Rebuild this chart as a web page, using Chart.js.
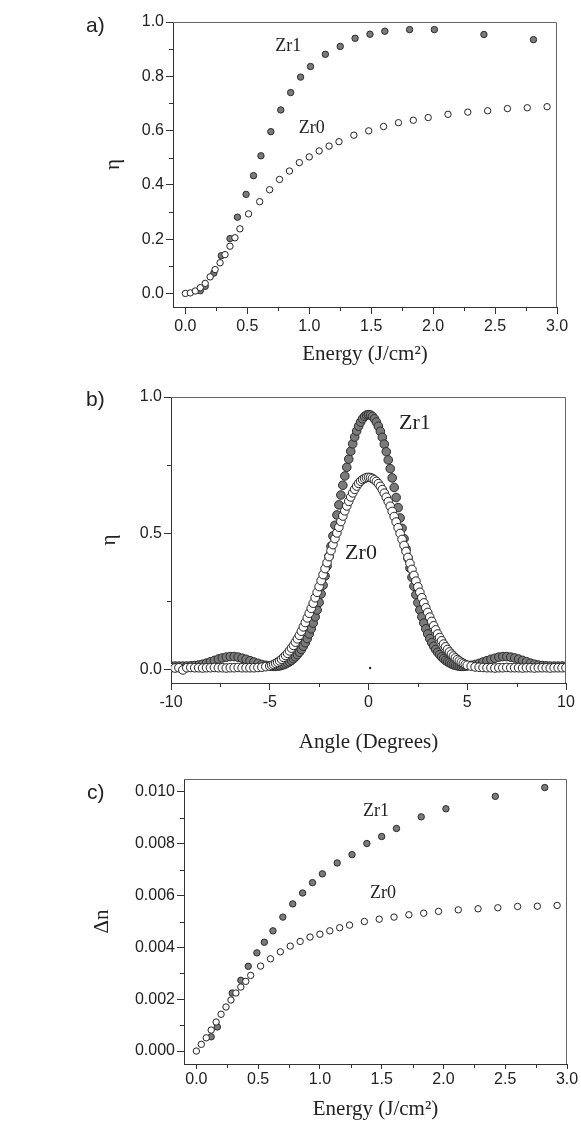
<!DOCTYPE html>
<html>
<head>
<meta charset="utf-8">
<script src="https://cdn.jsdelivr.net/npm/chart.js@4.4.1/dist/chart.umd.min.js"></script>
<style>
  html, body { margin: 0; padding: 0; background: #fff; }
  #wrap { position: relative; width: 581px; height: 1123px; }
  canvas { position: absolute; left: 0; }
</style>
</head>
<body>
<div id="wrap">
  <canvas id="chartA" width="581" height="380" style="top:0px"></canvas>
  <canvas id="chartB" width="581" height="390" style="top:380px"></canvas>
  <canvas id="chartC" width="581" height="353" style="top:770px"></canvas>
</div>
<script>
// Panel a) — diffraction efficiency vs energy
const energyZr1A = [0.12, 0.16, 0.23, 0.29, 0.36, 0.42, 0.49, 0.55, 0.61, 0.69, 0.77, 0.85, 0.93, 1.01, 1.13, 1.25, 1.37, 1.49, 1.61, 1.81, 2.01, 2.41, 2.81];
const etaZr1A    = [0.010, 0.026, 0.075, 0.139, 0.202, 0.281, 0.365, 0.434, 0.507, 0.596, 0.676, 0.740, 0.797, 0.836, 0.881, 0.910, 0.940, 0.955, 0.966, 0.972, 0.972, 0.954, 0.935];
const energyZr0A = [0.00, 0.04, 0.08, 0.12, 0.16, 0.20, 0.24, 0.28, 0.32, 0.36, 0.40, 0.44, 0.51, 0.60, 0.68, 0.76, 0.84, 0.92, 1.00, 1.08, 1.16, 1.24, 1.36, 1.48, 1.60, 1.72, 1.84, 1.96, 2.12, 2.28, 2.44, 2.60, 2.76, 2.92];
const etaZr0A    = [0.000, 0.002, 0.009, 0.021, 0.037, 0.061, 0.088, 0.113, 0.143, 0.174, 0.205, 0.238, 0.293, 0.338, 0.382, 0.420, 0.451, 0.482, 0.503, 0.525, 0.543, 0.559, 0.583, 0.599, 0.615, 0.629, 0.638, 0.648, 0.660, 0.668, 0.673, 0.681, 0.684, 0.688];

// Panel b) — angular selectivity
const angleB = [
  -10.0, -9.8, -9.6, -9.4, -9.2, -9.0, -8.8, -8.6, -8.4, -8.2, -8.0, -7.8, -7.6, -7.4, -7.2, -7.0, -6.8, -6.6, -6.4, -6.2, -6.0, -5.8, -5.6, -5.4, -5.2,
  -5.0, -4.9, -4.8, -4.7, -4.6, -4.5, -4.4, -4.3, -4.2, -4.1, -4.0, -3.9, -3.8, -3.7, -3.6, -3.5, -3.4, -3.3, -3.2, -3.1,
  -3.0, -2.9, -2.8, -2.7, -2.6, -2.5, -2.4, -2.3, -2.2, -2.1, -2.0, -1.9, -1.8, -1.7, -1.6, -1.5, -1.4, -1.3, -1.2, -1.1,
  -1.0, -0.9, -0.8, -0.7, -0.6, -0.5, -0.4, -0.3, -0.2, -0.1, 0.0,
  0.1, 0.2, 0.3, 0.4, 0.5, 0.6, 0.7, 0.8, 0.9, 1.0, 1.1, 1.2, 1.3, 1.4, 1.5, 1.6, 1.7, 1.8, 1.9, 2.0,
  2.1, 2.2, 2.3, 2.4, 2.5, 2.6, 2.7, 2.8, 2.9, 3.0, 3.1, 3.2, 3.3, 3.4, 3.5, 3.6, 3.7, 3.8, 3.9, 4.0,
  4.1, 4.2, 4.3, 4.4, 4.5, 4.6, 4.7, 4.8, 4.9, 5.0,
  5.2, 5.4, 5.6, 5.8, 6.0, 6.2, 6.4, 6.6, 6.8, 7.0, 7.2, 7.4, 7.6, 7.8, 8.0, 8.2, 8.4, 8.6, 8.8, 9.0, 9.2, 9.4, 9.6, 9.8, 10.0
];
const etaZr1B = [
  0.012, 0.012, 0.012, 0.012, 0.012, 0.013, 0.014, 0.016, 0.019, 0.023, 0.028, 0.033, 0.038, 0.042, 0.045, 0.047, 0.047, 0.045, 0.041, 0.037, 0.032, 0.027, 0.022, 0.018, 0.015,
  0.013, 0.012, 0.011, 0.011, 0.012, 0.013, 0.015, 0.017, 0.020, 0.024, 0.028, 0.033, 0.039, 0.046, 0.054, 0.063, 0.073, 0.085, 0.098, 0.113,
  0.130, 0.149, 0.170, 0.193, 0.218, 0.246, 0.277, 0.309, 0.343, 0.379, 0.415, 0.452, 0.490, 0.529, 0.567, 0.604, 0.640, 0.676, 0.710, 0.742,
  0.772, 0.801, 0.828, 0.853, 0.875, 0.893, 0.908, 0.920, 0.929, 0.934, 0.935,
  0.934, 0.929, 0.920, 0.908, 0.893, 0.874, 0.852, 0.827, 0.799, 0.769, 0.737, 0.703, 0.668, 0.631, 0.594, 0.556, 0.518, 0.480, 0.443, 0.407,
  0.372, 0.338, 0.305, 0.274, 0.245, 0.218, 0.193, 0.170, 0.149, 0.130, 0.113, 0.098, 0.085, 0.073, 0.063, 0.054, 0.046, 0.039, 0.033, 0.028,
  0.024, 0.020, 0.017, 0.015, 0.013, 0.012, 0.011, 0.011, 0.012, 0.013,
  0.015, 0.018, 0.022, 0.027, 0.032, 0.037, 0.041, 0.045, 0.047, 0.047, 0.045, 0.042, 0.038, 0.033, 0.028, 0.023, 0.019, 0.016, 0.014, 0.013, 0.012, 0.012, 0.012, 0.012, 0.012
];
const etaZr0B = [
  0.006, 0.005, 0.006, -0.002, 0.006, 0.007, 0.006, 0.006, 0.005, 0.006, 0.006, 0.007, 0.006, 0.006, 0.005, 0.006, 0.006, 0.007, 0.006, 0.006, 0.006, 0.006, 0.007, 0.008, 0.010,
  0.012, 0.015, 0.018, 0.022, 0.026, 0.031, 0.037, 0.044, 0.051, 0.059, 0.068, 0.078, 0.088, 0.100, 0.112, 0.125, 0.140, 0.156, 0.172, 0.189,
  0.206, 0.224, 0.243, 0.263, 0.283, 0.304, 0.326, 0.348, 0.370, 0.392, 0.414, 0.436, 0.458, 0.480, 0.501, 0.522, 0.543, 0.563, 0.582, 0.600,
  0.617, 0.633, 0.648, 0.661, 0.673, 0.683, 0.691, 0.697, 0.701, 0.704, 0.705,
  0.704, 0.701, 0.696, 0.690, 0.682, 0.672, 0.660, 0.647, 0.632, 0.616, 0.599, 0.580, 0.561, 0.541, 0.520, 0.499, 0.477, 0.455, 0.433, 0.411,
  0.389, 0.367, 0.345, 0.324, 0.303, 0.283, 0.263, 0.244, 0.226, 0.209, 0.192, 0.176, 0.160, 0.145, 0.130, 0.117, 0.105, 0.093, 0.083, 0.073,
  0.064, 0.056, 0.049, 0.042, 0.036, 0.031, 0.026, 0.022, 0.018, 0.015,
  0.012, 0.009, 0.008, 0.007, 0.006, 0.006, 0.005, 0.006, 0.006, 0.007, 0.006, 0.006, 0.006, 0.005, 0.006, 0.006, 0.005, 0.006, 0.006, 0.006, 0.005, 0.006, 0.006, 0.006, 0.006
];
const strayAngleB = [0.08];
const strayEtaB = [0.005];

// Panel c) — refractive index modulation vs energy
const energyZr1C = [0.12, 0.17, 0.29, 0.36, 0.42, 0.49, 0.55, 0.62, 0.70, 0.78, 0.86, 0.94, 1.02, 1.14, 1.26, 1.38, 1.50, 1.62, 1.82, 2.02, 2.42, 2.82];
const dnZr1C     = [0.00055, 0.00093, 0.00224, 0.00273, 0.00327, 0.00379, 0.00420, 0.00464, 0.00517, 0.00568, 0.00610, 0.00650, 0.00684, 0.00726, 0.00758, 0.00801, 0.00828, 0.00859, 0.00904, 0.00935, 0.00983, 0.01017];
const energyZr0C = [0.00, 0.04, 0.08, 0.12, 0.16, 0.20, 0.24, 0.28, 0.32, 0.36, 0.40, 0.44, 0.52, 0.60, 0.68, 0.76, 0.84, 0.92, 1.00, 1.08, 1.16, 1.24, 1.36, 1.48, 1.60, 1.72, 1.84, 1.96, 2.12, 2.28, 2.44, 2.60, 2.76, 2.92];
const dnZr0C     = [0.00000, 0.00026, 0.00051, 0.00081, 0.00112, 0.00142, 0.00170, 0.00197, 0.00224, 0.00247, 0.00269, 0.00292, 0.00328, 0.00356, 0.00383, 0.00405, 0.00423, 0.00440, 0.00451, 0.00464, 0.00476, 0.00486, 0.00500, 0.00509, 0.00517, 0.00526, 0.00532, 0.00539, 0.00545, 0.00549, 0.00553, 0.00558, 0.00559, 0.00562];

// minor tick positions
const minorEnergy = [0.25, 0.75, 1.25, 1.75, 2.25, 2.75];
const minorEtaA = [0.1, 0.3, 0.5, 0.7, 0.9];
const minorAngleB = [-7.5, -2.5, 2.5, 7.5];
const minorEtaB = [0.25, 0.75];
const minorDnC = [0.001, 0.003, 0.005, 0.007, 0.009];

const pts = (xs, ys) => xs.map((v, i) => ({ x: v, y: ys[i] }));

const tickFont = { family: '"Liberation Sans", Arial, sans-serif', size: 16 };
const titleFont = { family: '"Liberation Serif", "Times New Roman", serif', size: 21 };

// draws the top/right box edges, minor ticks, curve labels and panel letter
const framePlugin = {
    id: 'frame',
    afterDraw(chart, args, o) {
        const { ctx, chartArea: a, scales: { x, y } } = chart;
        ctx.save();
        ctx.strokeStyle = '#666';
        ctx.lineWidth = 1;
        ctx.beginPath();
        ctx.moveTo(a.left, a.top + 0.5);
        ctx.lineTo(a.right - 0.5, a.top + 0.5);
        ctx.lineTo(a.right - 0.5, a.bottom);
        ctx.stroke();

        ctx.strokeStyle = '#333';
        ctx.beginPath();
        o.minorX.forEach(v => {
            const px = Math.round(x.getPixelForValue(v)) + 0.5;
            ctx.moveTo(px, a.bottom); ctx.lineTo(px, a.bottom + 4);
        });
        o.minorY.forEach(v => {
            const py = Math.round(y.getPixelForValue(v)) + 0.5;
            ctx.moveTo(a.left, py); ctx.lineTo(a.left - 4, py);
        });
        ctx.stroke();

        ctx.fillStyle = '#222';
        ctx.textAlign = 'center';
        ctx.textBaseline = 'middle';
        ctx.font = o.noteSize + 'px "Liberation Serif", "Times New Roman", serif';
        o.notes.forEach(n => ctx.fillText(n.text, x.getPixelForValue(n.x), y.getPixelForValue(n.y)));

        ctx.textAlign = 'left';
        ctx.font = '21px "Liberation Sans", Arial, sans-serif';
        ctx.fillText(o.letter, o.letterX, o.letterY);
        ctx.restore();
    }
};

function build(id, c) {
    return new Chart(document.getElementById(id), {
        type: 'scatter',
        data: { datasets: c.datasets },
        options: {
            responsive: false,
            animation: false,
            devicePixelRatio: 1,
            layout: { padding: c.pad },
            plugins: { legend: { display: false }, tooltip: { enabled: false }, frame: c.frame },
            scales: {
                x: {
                    type: 'linear', min: c.x.min, max: c.x.max,
                    ticks: { stepSize: c.x.step, includeBounds: false, maxRotation: 0, font: tickFont, color: '#222', padding: c.x.pad, callback: c.x.fmt },
                    grid: { drawOnChartArea: false, tickLength: c.x.tick, tickColor: '#333' },
                    border: { color: '#333' },
                    title: { display: true, text: c.x.title, font: titleFont, color: '#222', padding: 0 },
                    afterFit: s => { s.height = c.x.size; s.paddingLeft = 0; s.paddingRight = 0; }
                },
                y: {
                    type: 'linear', min: c.y.min, max: c.y.max,
                    ticks: { stepSize: c.y.step, includeBounds: false, font: tickFont, color: '#222', padding: 2, callback: c.y.fmt },
                    grid: { drawOnChartArea: false, tickLength: 7, tickColor: '#333' },
                    border: { color: '#333' },
                    title: { display: true, text: c.y.title, font: titleFont, color: '#222', padding: 0 },
                    afterFit: s => { s.width = c.y.size; s.paddingTop = 0; s.paddingBottom = 0; }
                }
            }
        },
        plugins: [framePlugin]
    });
}

const openPt = r => ({ backgroundColor: '#ffffff', borderColor: '#222', borderWidth: 1, pointRadius: r });
const grayPt = r => ({ backgroundColor: '#7a7a7a', borderColor: '#2a2a2a', borderWidth: 1, pointRadius: r });

build('chartA', {
    pad: { left: 101, right: 24, top: 22, bottom: 13 },
    datasets: [
        { label: 'Zr0', data: pts(energyZr0A, etaZr0A), ...openPt(3.2) },
        { label: 'Zr1', data: pts(energyZr1A, etaZr1A), ...grayPt(3.2) },
    ],
    x: { min: -0.1, max: 3.0, step: 0.5, tick: 7, pad: 3, size: 60, title: 'Energy (J/cm²)', fmt: v => v.toFixed(1) },
    y: { min: -0.05, max: 1.0, step: 0.2, size: 72, title: 'η', fmt: v => v.toFixed(1) },
    frame: {
        minorX: minorEnergy, minorY: minorEtaA, noteSize: 18,
        notes: [{ text: 'Zr1', x: 0.83, y: 0.912 }, { text: 'Zr0', x: 1.02, y: 0.61 }],
        letter: 'a)', letterX: 86, letterY: 26
    }
});

build('chartB', {
    pad: { left: 97, right: 15, top: 17, bottom: 15 },
    datasets: [
        { label: 'dot', data: pts(strayAngleB, strayEtaB), backgroundColor: '#222', borderColor: '#222', borderWidth: 0, pointRadius: 1.2 },
        { label: 'Zr0', data: pts(angleB, etaZr0B), ...openPt(4.3) },
        { label: 'Zr1', data: pts(angleB, etaZr1B), ...grayPt(4.3) },
    ],
    x: { min: -10, max: 10, step: 5, tick: 7, pad: 3, size: 72, title: 'Angle (Degrees)', fmt: v => String(v) },
    y: { min: -0.05, max: 1.0, step: 0.5, size: 74, title: 'η', fmt: v => v.toFixed(1) },
    frame: {
        minorX: minorAngleB, minorY: minorEtaB, noteSize: 22,
        notes: [{ text: 'Zr1', x: 2.35, y: 0.902 }, { text: 'Zr0', x: -0.38, y: 0.428 }],
        letter: 'b)', letterX: 86, letterY: 20
    }
});

build('chartC', {
    pad: { left: 90, right: 14, top: 9, bottom: 1 },
    datasets: [
        { label: 'Zr0', data: pts(energyZr0C, dnZr0C), ...openPt(3.2) },
        { label: 'Zr1', data: pts(energyZr1C, dnZr1C), ...grayPt(3.2) },
    ],
    x: { min: -0.1, max: 3.0, step: 0.5, tick: 5, pad: 1, size: 58, title: 'Energy (J/cm²)', fmt: v => v.toFixed(1) },
    y: { min: -0.0005, max: 0.0105, step: 0.002, size: 94, title: 'Δn', fmt: v => v.toFixed(3) },
    frame: {
        minorX: minorEnergy, minorY: minorDnC, noteSize: 18,
        notes: [{ text: 'Zr1', x: 1.455, y: 0.00926 }, { text: 'Zr0', x: 1.51, y: 0.00609 }],
        letter: 'c)', letterX: 87, letterY: 23
    }
});
</script>
</body>
</html>
